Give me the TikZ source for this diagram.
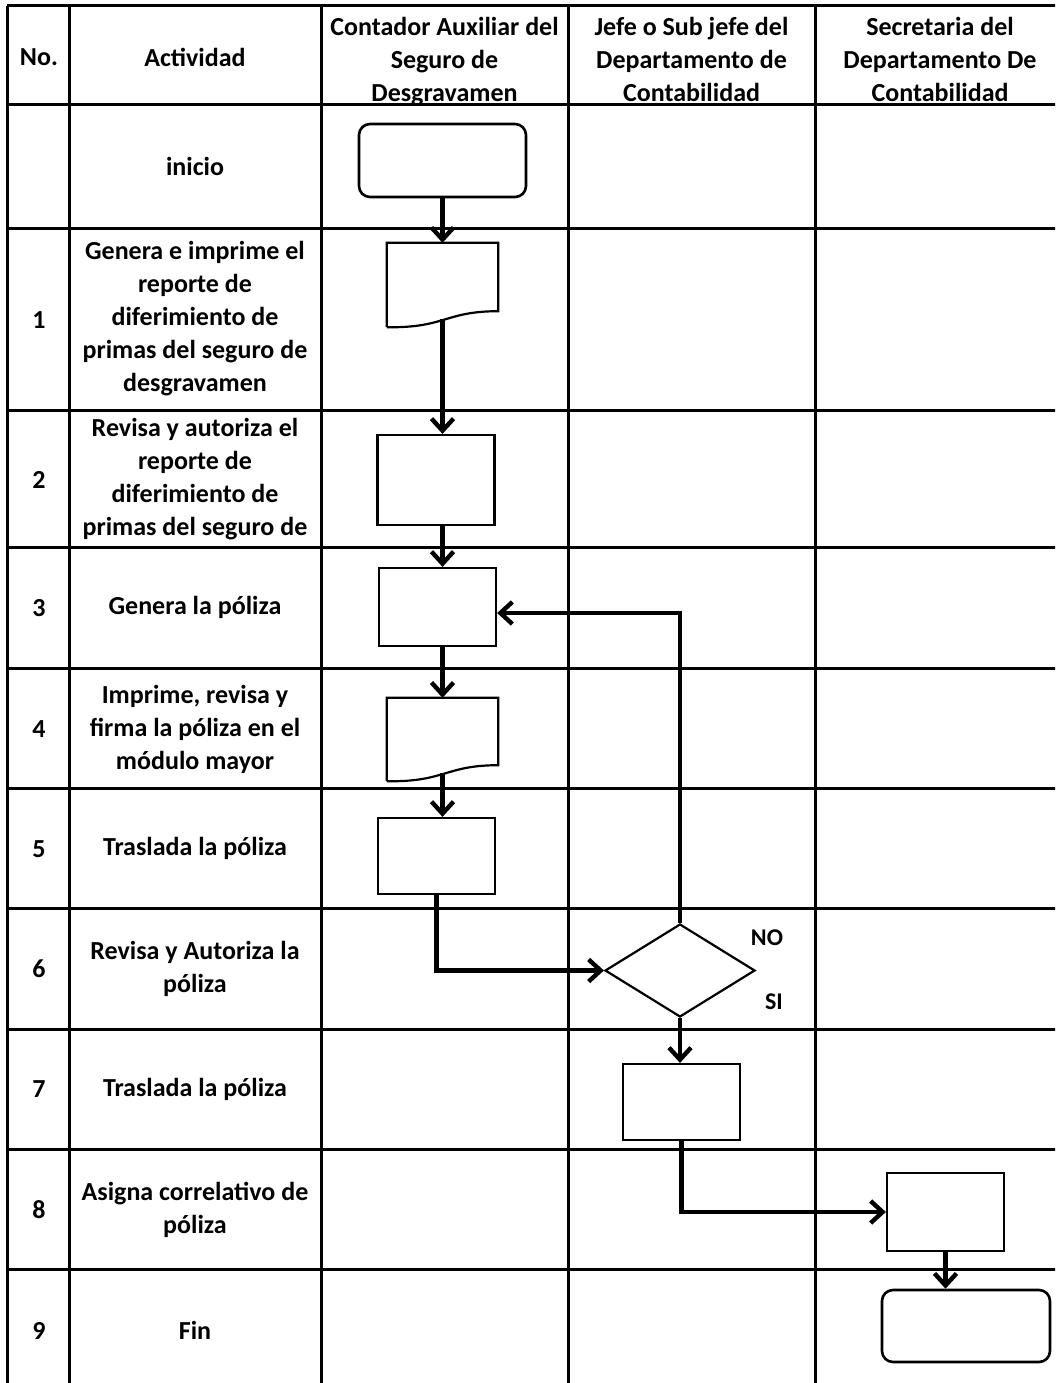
\documentclass[tikz,border=0pt]{standalone}
\usepackage{fontspec}
\setmainfont{Carlito}
\usetikzlibrary{shapes.geometric,arrows.meta,calc}

\tikzset{
  grid/.style={line width=3pt},
  txt/.style={font=\fontsize{26}{33}\selectfont\bfseries, align=center, inner sep=0pt},
  lbl/.style={font=\fontsize{24}{28}\selectfont\bfseries, inner sep=0pt},
  box/.style={draw, line width=2.2pt, minimum width=117pt, minimum height=78pt, inner sep=0pt},
  term/.style={box, line width=2.6pt, rounded corners=11pt, minimum width=167pt, minimum height=73pt},
  docbox/.style={inner sep=0pt, minimum width=111pt, minimum height=84pt},
  decision/.style={draw, diamond, line width=2.2pt, minimum width=150pt, minimum height=93pt, inner sep=0pt},
  flow/.style={line width=4.4pt, -{Straight Barb[length=12pt,width=22pt]}},
}

% document symbol with a wavy bottom edge
\newcommand\docpath[1]{%
  \draw[line width=2.2pt] (#1.south west) -- (#1.north west) -- (#1.north east)
    -- ($(#1.south east)+(0,-16)$)
    .. controls ($(#1.south)+(2.5,-16)$) and ($(#1.south)+(2.5,1)$) .. (#1.south west);}

\begin{document}
\begin{tikzpicture}[x=1pt,y=-1pt]
\clip (0,0) rectangle (1055,1383);

% table
\foreach \y in {6,105,228,410,547,668,788,908,1029,1149,1269}
    \draw[grid] (7,\y) -- (1070,\y);
\foreach \x in {7,69,321,568,815}
    \draw[grid] (\x,6) -- (\x,1395);

% header
\node[txt] (hno) at (39,57) {No.};
\node[txt] (hact) at (195,57) {Actividad};
\node[txt] (hcon) at (444.5,62) {Contador Auxiliar del\\Seguro de\\Desgravamen};
\node[txt] (hjef) at (691.5,59) {Jefe o Sub jefe del\\Departamento de\\Contabilidad};
\node[txt] (hsec) at (940,59) {Secretaria del\\Departamento De\\Contabilidad};

% activities
\foreach \n/\y/\t in {0/166.5/inicio,
    1/319/{Genera e imprime el\\reporte de\\diferimiento de\\primas del seguro de\\desgravamen},
    2/479/{Revisa y autoriza el\\reporte de\\diferimiento de\\primas del seguro de},
    3/607.5/{Genera la póliza},
    4/729/{Imprime, revisa y\\firma la póliza en el\\módulo mayor},
    5/848/{Traslada la póliza},
    6/969/{Revisa y Autoriza la\\póliza},
    7/1089/{Traslada la póliza},
    8/1210/{Asigna correlativo de\\póliza},
    9/1330/Fin} {
    \node[txt] (act\n) at (195,\y) {\t};
}
\foreach \n/\y in {1/320,2/480,3/608,4/729,5/849,6/969,7/1089,8/1210,9/1331}
    \node[txt] (no\n) at (39,\y) {\n};

% flow symbols
\node[term] (ini) at (442.5,160.5) {};
\node[docbox] (d1) at (442.5,285) {};
\docpath{d1}
\node[box, minimum height=90pt] (b2) at (436,480) {};
\node[box] (b3) at (437.5,607) {};
\node[docbox, minimum height=83pt] (d4) at (442.5,739.5) {};
\docpath{d4}
\node[box, minimum height=76pt] (b5) at (436.5,856) {};
\node[decision] (dec) at (680,970.5) {};
\node[lbl] (lno) at (767,938) {NO};
\node[lbl] (lsi) at (774,1002) {SI};
\node[box, minimum height=76pt] (b7) at (681.5,1102) {};
\node[box] (b8) at (945.5,1212) {};
\node[term, minimum width=168pt, minimum height=72pt] (fin) at (966,1326) {};

% connectors
\draw[flow] (ini.south) -- (d1.north);
\draw[flow] ([yshift=8pt]d1.south) -- (d1.south |- b2.north);
\draw[flow] (b2.south -| d1.south) -- (d1.south |- b3.north);
\draw[flow] (b3.south -| d4.north) -- (d4.north);
\draw[flow] ([yshift=8pt]d4.south) -- (d4.south |- b5.north);
\draw[flow] (b5.south) |- (dec.west);
\draw[flow] (dec.north) |- ([yshift=-6pt]b3.east);
\draw[flow] (dec.south) -- (dec.south |- b7.north);
\draw[flow] (b7.south) |- (b8.west);
\draw[flow] (b8.south) -- (b8.south |- fin.north);
\end{tikzpicture}
\end{document}
